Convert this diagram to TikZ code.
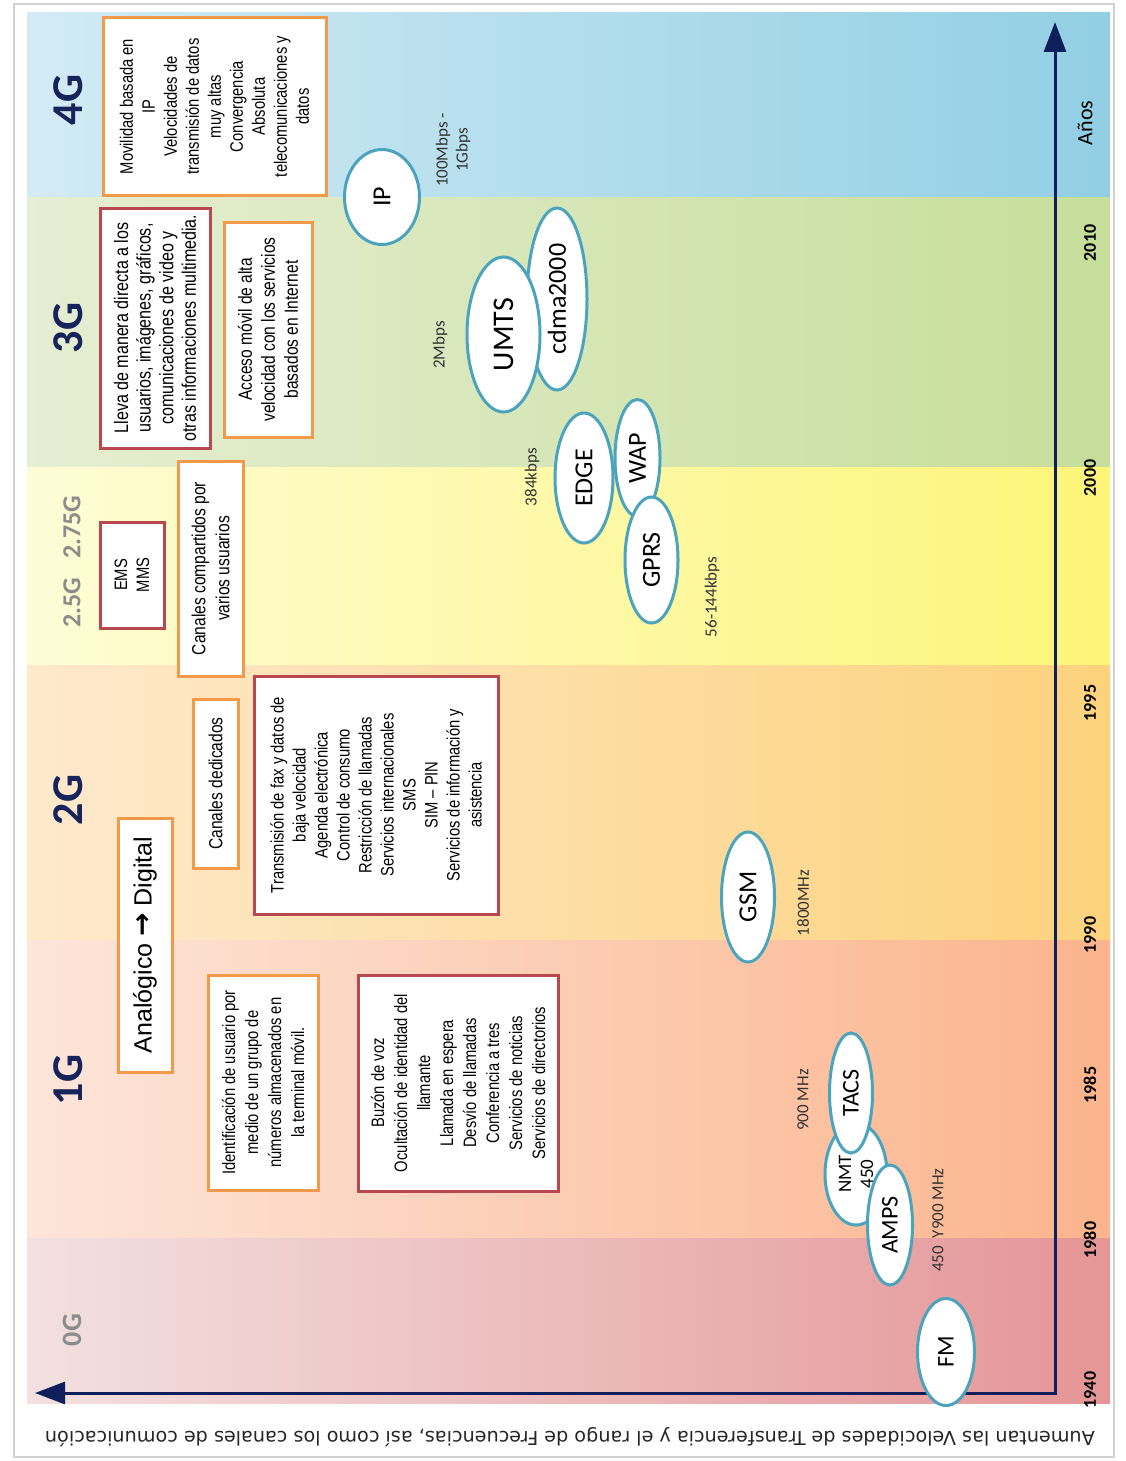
\documentclass[tikz,border=0pt]{standalone}
\usepackage{fontspec}
\setmainfont{Carlito}
\newfontfamily\narrowfont{Liberation Sans}[FakeStretch=0.82]
\newfontfamily\plainsans{Liberation Sans}
\newfontfamily\dejavu{DejaVu Sans}
\usetikzlibrary{arrows.meta,shapes.geometric}

\definecolor{navy}{HTML}{0F1F5C}
\definecolor{gentext}{HTML}{17245C}
\definecolor{gengrey}{HTML}{8C8C8C}
\definecolor{speedtext}{HTML}{333333}
\definecolor{boxorange}{HTML}{F39A4A}
\definecolor{boxred}{HTML}{B8474E}
\definecolor{ovalteal}{HTML}{4BA3BE}
\definecolor{b4l}{HTML}{D3EBF4}\definecolor{b4r}{HTML}{92CFE4}
\definecolor{b3l}{HTML}{E6EED3}\definecolor{b3r}{HTML}{C6DE9A}
\definecolor{b25l}{HTML}{FEFCD6}\definecolor{b25r}{HTML}{FDF578}
\definecolor{b2l}{HTML}{FEE9CC}\definecolor{b2r}{HTML}{FCD27C}
\definecolor{b1l}{HTML}{FDE5DA}\definecolor{b1r}{HTML}{FBB48C}
\definecolor{b0l}{HTML}{F3E0E0}\definecolor{b0r}{HTML}{E59596}

\newcommand\boxfont{\narrowfont\fontsize{9}{11}\selectfont}

\begin{document}
\begin{tikzpicture}[x=0.5pt, y=-0.5pt,
    obox/.style={draw=boxorange, line width=1.5pt, fill=white, rotate=90,
        align=center, inner sep=0pt, font=\boxfont},
    rbox/.style={obox, draw=boxred},
    oval/.style={ellipse, draw=ovalteal, line width=1.5pt, fill=white, rotate=90,
        inner sep=0pt, align=center, font=\fontsize{13}{14}\selectfont},
    sz/.style 2 args={minimum width=#2*0.5pt, minimum height=#1*0.5pt},
    gen/.style={rotate=90, font=\bfseries\fontsize{22}{22}\selectfont, text=gentext},
    subgen/.style={rotate=90, font=\bfseries\fontsize{13}{13}\selectfont, text=gengrey},
    year/.style={rotate=90, font=\bfseries\fontsize{9}{9}\selectfont},
    speed/.style={rotate=90, align=center, font=\fontsize{8.5}{10}\selectfont, text=speedtext}]
    \useasboundingbox (0,0) rectangle (1125,1461);
    \fill[white] (0,0) rectangle (1125,1461);
    \draw[gray!35, line width=1pt] (14,4) rectangle (1114,1457);

    % generation bands
    \foreach \ytop/\ybot/\cl/\cr in {13/197/b4l/b4r, 197/467/b3l/b3r, 467/665/b25l/b25r,
        665/940/b2l/b2r, 940/1238/b1l/b1r, 1238/1403/b0l/b0r} {
        \shade[left color=\cl, right color=\cr] (27,\ytop) rectangle (1110,\ybot);
    }

    % axes
    \coordinate (origin) at (1055,1393);
    \coordinate (xend) at (35,1393);
    \coordinate (yend) at (1055,22);
    \draw[navy, line width=1.5pt, {Triangle[length=15pt,width=11pt]}-{Triangle[length=15pt,width=11pt]}]
        (xend) -- (origin) -- (yend);

    \foreach \yr/\ypos in {1940/1390, 1980/1240, 1985/1085, 1990/935, 1995/703, 2000/478, 2010/243} {
        \node[year] (y\yr) at (1090,\ypos) {\yr};
    }
    \node[rotate=90, font=\fontsize{11}{11}\selectfont] (anos) at (1085,123) {Años};

    % generations
    \node[gen] (g4) at (68,100) {4G};
    \node[gen] (g3) at (68,328) {3G};
    \node[subgen] (g275) at (72,527) {2.75G};
    \node[subgen] (g25) at (72,603) {2.5G};
    \node[gen] (g2) at (68,800) {2G};
    \node[gen] (g1) at (68,1080) {1G};
    \node[subgen, font=\bfseries\fontsize{14}{14}\selectfont] (g0) at (72,1330) {0G};

    % boxes
    \node[obox, sz={223}{177}] (b4g) at (214.5,106.5) {Movilidad basada en\\IP\\Velocidades de\\transmisión de datos\\muy altas\\Convergencia\\Absoluta\\telecomunicaciones y\\datos};
    \node[rbox, sz={110}{240}, font=\narrowfont\fontsize{9.8}{11.3}\selectfont] (b3red) at (155,328) {Lleva de manera directa a los\\usuarios, imágenes, gráficos,\\comunicaciones de video y\\otras informaciones multimedia.};
    \node[obox, sz={88}{215}, font=\narrowfont\fontsize{9.5}{11.5}\selectfont] (b3org) at (268,329.5) {Acceso móvil de alta\\velocidad con los servicios\\basados en Internet};
    \node[rbox, sz={64}{106}] (bems) at (132,575) {EMS\\MMS};
    \node[obox, sz={65}{215}, font=\narrowfont\fontsize{9.5}{12}\selectfont] (bcomp) at (210.5,568.5) {Canales compartidos por\\varios usuarios};
    \node[obox, sz={45}{169}, font=\narrowfont\fontsize{9.5}{11}\selectfont] (bded) at (215.5,783.5) {Canales dedicados};
    \node[obox, sz={54}{254}, font=\plainsans\fontsize{12.5}{14}\selectfont] (banal) at (145,945) {Analógico {\dejavu\bfseries\fontsize{14}{14}\selectfont →} Digital};
    \node[rbox, sz={244}{238}] (b2red) at (376,795) {Transmisión de fax y datos de\\baja velocidad\\Agenda electrónica\\Control de consumo\\Restricción de llamadas\\Servicios internacionales\\SMS\\SIM – PIN\\Servicios de información y\\asistencia};
    \node[obox, sz={110}{215}, font=\narrowfont\fontsize{9}{11.5}\selectfont] (b1org) at (263,1082.5) {Identificación de usuario por\\medio de un grupo de\\números almacenados en\\la terminal móvil.};
    \node[rbox, sz={200}{216}, font=\narrowfont\fontsize{9}{11.5}\selectfont] (b1red) at (458,1083) {Buzón de voz\\Ocultación de identidad del\\llamante\\Llamada en espera\\Desvío de llamadas\\Conferencia a tres\\Servicios de noticias\\Servicios de directorios};

    % technologies
    \node[oval, sz={75}{95}] (ip) at (382,197) {IP};
    \node[oval, sz={60}{182}] (cdma) at (557,299) {cdma2000};
    \node[oval, sz={73}{155}, font=\fontsize{15}{15}\selectfont] (umts) at (503.5,334.5) {UMTS};
    \node[oval, sz={45}{117}] (wap) at (637.5,458) {WAP};
    \node[oval, sz={58}{130}] (edge) at (584,478) {EDGE};
    \node[oval, sz={53}{126}] (gprs) at (651.5,560) {GPRS};
    \node[oval, sz={53}{130}] (gsm) at (748,897) {GSM};
    \node[oval, sz={62}{102}, font=\fontsize{9.5}{11}\selectfont] (nmt) at (856,1174) {NMT\\450};
    \node[oval, sz={43}{120}, font=\fontsize{12}{12}\selectfont] (tacs) at (851,1093) {TACS};
    \node[oval, sz={45}{120}, font=\fontsize{12}{12}\selectfont] (amps) at (890,1225) {AMPS};
    \node[oval, sz={57}{107}, font=\fontsize{12}{12}\selectfont] (fm) at (946,1352) {FM};

    % speeds and frequencies
    \node[speed] (s4) at (453,150) {100Mbps -\\1Gbps};
    \node[speed] (s3) at (440,345) {2Mbps};
    \node[speed] (s3b) at (532,477) {384kbps};
    \node[speed] (s25) at (712,597) {56-144kbps};
    \node[speed] (s2) at (803,903) {1800MHz};
    \node[speed] (s1a) at (803,1100) {900 MHz};
    \node[speed] (s1b) at (938,1220) {450\ \ Y900 MHz};

    \node[rotate=180, font=\dejavu\fontsize{9.6}{11}\selectfont, text=black!85] (caption) at (570,1437)
        {Aumentan las Velocidades de Transferencia y el rango de Frecuencias, así como los canales de comunicación};
\end{tikzpicture}
\end{document}
